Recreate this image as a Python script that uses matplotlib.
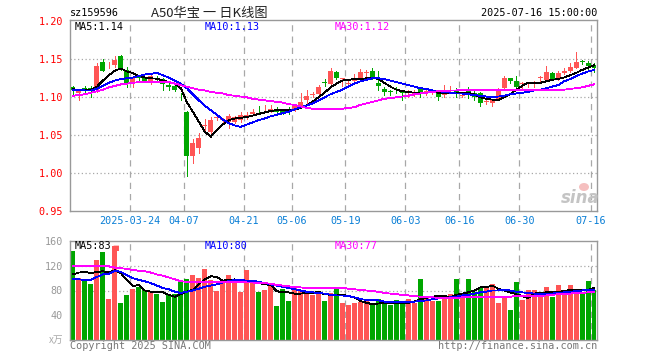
import numpy as np
import matplotlib
matplotlib.use("Agg")
import matplotlib.pyplot as plt
from matplotlib.patches import Ellipse

# daily candles 2025-03-10 .. 2025-07-16 (88 trading days)
opens = [1.113, 1.106, 1.112, 1.112, 1.110, 1.146, 1.142, 1.142, 1.154, 1.136,
         1.118, 1.128, 1.126, 1.122, 1.126, 1.124, 1.116, 1.115, 1.101, 1.081,
         1.023, 1.033, 1.062, 1.054, 1.073, 1.070, 1.068, 1.068, 1.070, 1.074,
         1.078, 1.085, 1.084, 1.081, 1.085, 1.083, 1.084, 1.084, 1.089, 1.096,
         1.103, 1.104, 1.120, 1.118, 1.133, 1.124, 1.118, 1.121, 1.126, 1.132,
         1.134, 1.119, 1.111, 1.108, 1.111, 1.107, 1.106, 1.104, 1.112, 1.107,
         1.107, 1.106, 1.103, 1.109, 1.110, 1.102, 1.110, 1.105, 1.106, 1.094,
         1.092, 1.097, 1.112, 1.125, 1.121, 1.117, 1.119, 1.119, 1.126, 1.123,
         1.132, 1.124, 1.132, 1.134, 1.139, 1.148, 1.145, 1.143]
closes = [1.110, 1.110, 1.111, 1.108, 1.141, 1.135, 1.143, 1.149, 1.137, 1.118,
          1.126, 1.126, 1.122, 1.128, 1.124, 1.117, 1.114, 1.109, 1.100, 1.023,
          1.040, 1.047, 1.062, 1.070, 1.074, 1.071, 1.075, 1.074, 1.077, 1.077,
          1.081, 1.084, 1.085, 1.085, 1.081, 1.079, 1.083, 1.088, 1.094, 1.102,
          1.104, 1.114, 1.119, 1.134, 1.125, 1.124, 1.118, 1.125, 1.133, 1.132,
          1.125, 1.115, 1.107, 1.107, 1.110, 1.105, 1.106, 1.106, 1.107, 1.107,
          1.107, 1.100, 1.110, 1.110, 1.105, 1.103, 1.103, 1.101, 1.092, 1.094,
          1.096, 1.111, 1.125, 1.121, 1.114, 1.119, 1.119, 1.120, 1.126, 1.133,
          1.124, 1.132, 1.135, 1.140, 1.146, 1.146, 1.141, 1.138]
highs = [1.115, 1.111, 1.115, 1.115, 1.145, 1.150, 1.146, 1.154, 1.155, 1.140,
         1.128, 1.129, 1.127, 1.132, 1.128, 1.125, 1.119, 1.117, 1.105, 1.082,
         1.045, 1.053, 1.071, 1.074, 1.076, 1.073, 1.078, 1.076, 1.080, 1.081,
         1.084, 1.089, 1.090, 1.090, 1.087, 1.085, 1.087, 1.091, 1.106, 1.110,
         1.107, 1.116, 1.124, 1.138, 1.134, 1.126, 1.121, 1.131, 1.137, 1.136,
         1.139, 1.135, 1.114, 1.110, 1.114, 1.108, 1.110, 1.110, 1.114, 1.109,
         1.110, 1.107, 1.116, 1.115, 1.112, 1.105, 1.113, 1.108, 1.107, 1.097,
         1.097, 1.112, 1.128, 1.126, 1.128, 1.120, 1.120, 1.122, 1.128, 1.141,
         1.133, 1.134, 1.138, 1.145, 1.160, 1.149, 1.148, 1.145]
lows = [1.103, 1.097, 1.105, 1.101, 1.107, 1.134, 1.139, 1.140, 1.136, 1.114,
        1.114, 1.121, 1.120, 1.117, 1.120, 1.110, 1.110, 1.108, 1.097, 0.996,
        1.014, 1.027, 1.053, 1.053, 1.070, 1.066, 1.060, 1.066, 1.068, 1.071,
        1.077, 1.080, 1.080, 1.080, 1.080, 1.078, 1.078, 1.082, 1.088, 1.092,
        1.100, 1.103, 1.115, 1.116, 1.124, 1.115, 1.114, 1.119, 1.125, 1.127,
        1.124, 1.110, 1.103, 1.103, 1.105, 1.097, 1.100, 1.102, 1.100, 1.103,
        1.104, 1.096, 1.101, 1.106, 1.100, 1.101, 1.099, 1.097, 1.088, 1.091,
        1.088, 1.096, 1.110, 1.119, 1.112, 1.112, 1.114, 1.114, 1.120, 1.122,
        1.123, 1.123, 1.131, 1.133, 1.138, 1.144, 1.134, 1.133]

# price moving averages as drawn on the chart
ma5 = [1.1105, 1.110, 1.1096, 1.110, 1.114, 1.122, 1.129, 1.135, 1.138, 1.134,
       1.132, 1.128, 1.126, 1.125, 1.1245, 1.122, 1.120, 1.118, 1.112, 1.094,
       1.081, 1.068, 1.055, 1.048, 1.057, 1.064, 1.070, 1.072, 1.073, 1.074,
       1.076, 1.078, 1.080, 1.082, 1.083, 1.083, 1.083, 1.084, 1.086, 1.089,
       1.094, 1.100, 1.106, 1.113, 1.118, 1.122, 1.123, 1.124, 1.124, 1.125,
       1.126, 1.124, 1.119, 1.114, 1.110, 1.108, 1.107, 1.106, 1.106, 1.106,
       1.107, 1.106, 1.106, 1.106, 1.106, 1.106, 1.106, 1.104, 1.100, 1.098,
       1.097, 1.096, 1.100, 1.104, 1.110, 1.115, 1.119, 1.119, 1.119, 1.121,
       1.123, 1.124, 1.126, 1.129, 1.132, 1.136, 1.139, 1.142]
ma10 = [1.110, 1.110, 1.109, 1.109, 1.111, 1.115, 1.119, 1.122, 1.124, 1.125,
        1.126, 1.128, 1.130, 1.131, 1.132, 1.129, 1.126, 1.122, 1.118, 1.112,
        1.104, 1.096, 1.089, 1.083, 1.077, 1.071, 1.066, 1.063, 1.061, 1.064,
        1.067, 1.070, 1.072, 1.075, 1.077, 1.079, 1.081, 1.084, 1.087, 1.089,
        1.092, 1.096, 1.100, 1.104, 1.107, 1.110, 1.114, 1.118, 1.121, 1.123,
        1.125, 1.125, 1.124, 1.122, 1.120, 1.118, 1.116, 1.114, 1.112, 1.111,
        1.109, 1.108, 1.107, 1.106, 1.105, 1.105, 1.104, 1.103, 1.102, 1.101,
        1.100, 1.101, 1.102, 1.104, 1.105, 1.106, 1.107, 1.109, 1.110, 1.112,
        1.114, 1.116, 1.121, 1.124, 1.128, 1.131, 1.134, 1.136]
ma30 = [1.102, 1.103, 1.104, 1.106, 1.108, 1.110, 1.113, 1.115, 1.117, 1.118,
        1.119, 1.120, 1.120, 1.120, 1.120, 1.120, 1.120, 1.118, 1.116, 1.114,
        1.112, 1.110, 1.109, 1.107, 1.106, 1.105, 1.103, 1.102, 1.101, 1.100,
        1.098, 1.097, 1.096, 1.095, 1.094, 1.093, 1.091, 1.090, 1.088, 1.086,
        1.085, 1.085, 1.085, 1.085, 1.085, 1.085, 1.086, 1.087, 1.090, 1.092,
        1.094, 1.096, 1.098, 1.099, 1.100, 1.101, 1.102, 1.104, 1.105, 1.106,
        1.107, 1.108, 1.108, 1.109, 1.109, 1.110, 1.110, 1.110, 1.110, 1.110,
        1.110, 1.110, 1.110, 1.110, 1.110, 1.110, 1.110, 1.110, 1.110, 1.110,
        1.110, 1.110, 1.110, 1.111, 1.112, 1.113, 1.115, 1.117]

# volume (万手) and its moving averages
volume = [144, 100, 97, 91, 130, 143, 66, 152, 60, 73,
          83, 85, 81, 77, 75, 62, 72, 74, 97, 99,
          105, 101, 115, 97, 80, 95, 105, 99, 77, 113,
          92, 77, 81, 89, 55, 83, 63, 84, 80, 77,
          73, 78, 63, 76, 83, 60, 56, 60, 62, 63,
          56, 66, 62, 57, 65, 60, 66, 60, 99, 69,
          63, 63, 71, 75, 99, 70, 99, 78, 85, 84,
          91, 60, 69, 49, 93, 65, 81, 81, 76, 86,
          69, 89, 78, 89, 81, 76, 96, 81]
vma5 = [106, 109, 110, 108, 110, 111, 109, 113, 108, 97,
        87, 89, 80, 78, 78, 77, 73, 70, 74, 78,
        81, 90, 98, 103, 102, 96, 97, 98, 93, 94,
        96, 92, 90, 89, 79, 77, 77, 75, 75, 76,
        76, 78, 74, 73, 73, 73, 71, 69, 63, 60,
        58, 59, 60, 60, 60, 60, 60, 62, 66, 68,
        70, 71, 71, 69, 73, 75, 77, 80, 85, 85,
        88, 83, 80, 77, 74, 71, 68, 75, 76, 77,
        77, 78, 79, 81, 81, 81, 81, 84]
vma10 = [98, 98, 97, 97, 102, 106, 107, 112, 110, 105,
         100, 97, 95, 92, 88, 84, 82, 78, 76, 78,
         80, 83, 86, 88, 90, 93, 95, 97, 97, 96,
         96, 94, 92, 90, 88, 86, 84, 82, 80, 78,
         77, 76, 75, 73, 72, 72, 71, 69, 66, 65,
         65, 64, 62, 62, 62, 61, 62, 62, 63, 64,
         66, 67, 68, 69, 70, 72, 73, 75, 77, 78,
         80, 80, 81, 80, 78, 77, 76, 75, 75, 75,
         75, 76, 77, 78, 79, 80, 81, 81]
vma30 = [120, 120, 120, 120, 120, 120, 119, 117, 116, 115,
         113, 112, 111, 109, 106, 104, 101, 98, 95, 94,
         94, 94, 94, 94, 94, 94, 94, 94, 94, 93,
         93, 92, 92, 91, 89, 88, 87, 85, 85, 84,
         84, 84, 84, 84, 84, 84, 83, 82, 81, 80,
         79, 78, 76, 75, 74, 73, 72, 71, 70, 70,
         69, 68, 68, 68, 68, 69, 69, 70, 70, 70,
         70, 70, 70, 70, 71, 71, 71, 71, 71, 72,
         73, 74, 75, 75, 76, 76, 77, 77]

tick_pos = [10, 19, 29, 37, 46, 56, 65, 75, 87]
tick_labels = ['2025-03-24', '04-07', '04-21', '05-06', '05-19',
               '06-03', '06-16', '06-30', '07-16']
price_ticks = [0.95, 1.00, 1.05, 1.10, 1.15, 1.20]
vol_ticks = [40, 80, 120, 160]

RED = '#ff5555'
GREEN = '#00a600'
GRID = '#a8a8a8'
MONO = 'DejaVu Sans Mono'
CJK = ['Noto Sans CJK SC', 'DejaVu Sans Mono']

W, H = 660, 360


def px(x, y):
    return x / W, 1 - y / H


def frame(ax):
    for s in ax.spines.values():
        s.set_color('#999999')
        s.set_linewidth(1.0)
    ax.set_xlim(-0.5, len(closes) - 0.5)
    ax.set_xticks([])
    for p in tick_pos:
        ax.axvline(p - 0.5, color=GRID, lw=0.9, ls=(0, (5, 4)), zorder=0)


def ma_lines(ax, a, b, d):
    ax.plot(idx, a, color='black', lw=0.6, zorder=4, antialiased=False)
    ax.plot(idx, b, color='#0000ff', lw=0.6, zorder=4, antialiased=False)
    ax.plot(idx, d, color='#ff00ff', lw=0.6, zorder=4, antialiased=False)


fig = plt.figure(figsize=(W / 100, H / 100), dpi=100)
ax = fig.add_axes([70 / W, 1 - 211.3 / H, 527 / W, 191 / H])
ax2 = fig.add_axes([70 / W, 1 - 340 / H, 527 / W, 99 / H])

idx = np.arange(len(closes))
o = np.array(opens)
c = np.array(closes)
up = c >= o
colors = [RED if u else GREEN for u in up]

# price panel
frame(ax)
ax.set_ylim(0.95, 1.2013)
for t in price_ticks[1:-1]:
    ax.axhline(t, color=GRID, lw=0.9, ls=(0, (1, 2)), zorder=0)
ax.vlines(idx, lows, highs, colors=colors, lw=0.7, zorder=2, antialiased=False)
body_bottom = np.minimum(o, c)
body_h = np.maximum(np.abs(c - o), 0.0009)
ax.bar(idx, body_h, bottom=body_bottom, width=0.83, color=colors, lw=0,
       zorder=3, antialiased=False)
ma_lines(ax, ma5, ma10, ma30)
ax.set_yticks(price_ticks)
ax.set_yticklabels(['%.2f' % t for t in price_ticks], color='#ff0000',
                   fontsize=7.3, family=MONO)
ax.tick_params(axis='y', length=0, pad=5)

# volume panel
frame(ax2)
ax2.set_ylim(0, 160)
for t in [80, 120]:
    ax2.axhline(t, color=GRID, lw=0.9, ls=(0, (1, 2)), zorder=0)
ax2.bar(idx, volume, width=0.83, color=colors, lw=0, zorder=2, antialiased=False)
ma_lines(ax2, vma5, vma10, vma30)
ax2.set_yticks(vol_ticks)
ax2.set_yticklabels([str(t) for t in vol_ticks], color='#999999',
                    fontsize=7.3, family=MONO)
ax2.tick_params(axis='y', length=0, pad=5)

# date labels under the price panel
for p, lab in zip(tick_pos, tick_labels):
    fig.text((70 + 5.99 * p) / W, 1 - 221 / H, lab, color='#0a7fd6',
             fontsize=7.3, family=MONO, ha='center', va='center')

# header
fig.text(*px(70, 13), 'sz159596', fontsize=7.3, family=MONO, va='center')
fig.text(*px(209, 13), 'A50华宝 一 日K线图', fontsize=9.5, family=CJK,
         ha='center', va='center', color='#222222')
fig.text(*px(597, 13), '2025-07-16 15:00:00', fontsize=7.3, family=MONO,
         ha='right', va='center')

# legend texts
fig.text(*px(75, 27), 'MA5:1.14', fontsize=7.3, family=MONO, va='center')
fig.text(*px(205, 27), 'MA10:1.13', fontsize=7.3, family=MONO, va='center', color='#0000ff')
fig.text(*px(335, 27), 'MA30:1.12', fontsize=7.3, family=MONO, va='center', color='#ff00ff')
fig.text(*px(75, 246), 'MA5:83', fontsize=7.3, family=MONO, va='center')
fig.text(*px(112, 248), '\u25a0', fontsize=5, color=RED, va='center')
fig.text(*px(205, 246), 'MA10:80', fontsize=7.3, family=MONO, va='center', color='#0000ff')
fig.text(*px(335, 246), 'MA30:77', fontsize=7.3, family=MONO, va='center', color='#ff00ff')

# footer
fig.text(*px(63, 340), 'x万', fontsize=7, family=CJK, ha='right', va='center',
         color='#aaaaaa', style='italic')
fig.text(*px(70, 346), 'Copyright 2025 SINA.COM', fontsize=7.3, family=MONO,
         va='center', color='#777777')
fig.text(*px(597, 346), 'http://finance.sina.com.cn', fontsize=7.3, family=MONO,
         ha='right', va='center', color='#777777')

# sina watermark
fig.text(*px(580, 198), 'sina', fontsize=12, weight='bold', style='italic',
         ha='center', va='center', color='#c4c4c4')
fig.patches.append(Ellipse(px(584, 187), 10 / W, 8 / H, transform=fig.transFigure,
                           facecolor='#f3b0b0', edgecolor='none', alpha=0.8))

fig.savefig('out.png', dpi=100)
